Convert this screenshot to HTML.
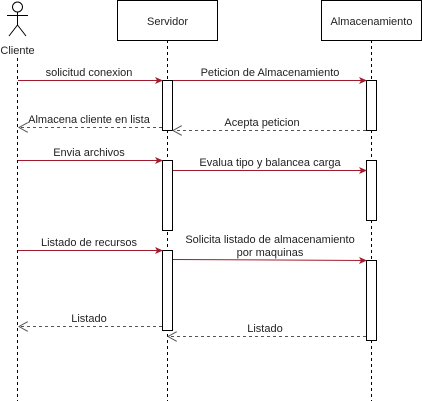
<!DOCTYPE html>
<html><head><meta charset="utf-8"><style>
html,body{margin:0;padding:0;background:#fff;width:422px;height:401px;overflow:hidden}
text{font-family:"Liberation Sans",sans-serif;font-size:11px;fill:#222}
</style></head><body>
<svg width="422" height="401" viewBox="0 0 422 401" xmlns="http://www.w3.org/2000/svg">
<defs>
<marker id="f" markerWidth="8" markerHeight="8" refX="7" refY="3.5" orient="auto" markerUnits="userSpaceOnUse"><path d="M0,0 L8,3.5 L0,7 L2,3.5z" fill="#a01c2c"/></marker>
<marker id="o" markerWidth="10" markerHeight="10" refX="9" refY="5" orient="auto" markerUnits="userSpaceOnUse"><path d="M0,0 L9,5 L0,10" fill="none" stroke="#555"/></marker>
</defs>
<g stroke="#000" stroke-dasharray="3,3" stroke-width="1">
<line x1="17.5" y1="58" x2="17.5" y2="401"/>
<line x1="167.5" y1="40" x2="167.5" y2="401"/>
<line x1="371.5" y1="40" x2="371.5" y2="401"/>
</g>
<!-- actor -->
<g stroke="#000" fill="none">
<circle cx="17.5" cy="7" r="5"/>
<line x1="17.5" y1="12" x2="17.5" y2="25"/>
<line x1="7" y1="15.5" x2="28" y2="15.5"/>
<line x1="17.5" y1="25" x2="9" y2="36"/>
<line x1="17.5" y1="25" x2="26" y2="36"/>
</g>
<text x="17.5" y="54" text-anchor="middle">Cliente</text>
<rect x="117.5" y="0.5" width="100" height="40" fill="#fff" stroke="#000"/>
<text x="167.5" y="25" text-anchor="middle">Servidor</text>
<rect x="321.5" y="0.5" width="100" height="40" fill="#fff" stroke="#000"/>
<text x="371.5" y="25" text-anchor="middle" font-size="10.5">Almacenamiento</text>
<g fill="#fff" stroke="#000">
<rect x="162.5" y="80.5" width="10" height="50"/>
<rect x="162.5" y="160.5" width="10" height="70"/>
<rect x="162.5" y="250.5" width="10" height="80"/>
<rect x="366.5" y="80.5" width="10" height="50"/>
<rect x="366.5" y="160.5" width="10" height="60"/>
<rect x="366.5" y="260.5" width="10" height="80"/>
</g>
<g stroke="#a01c2c" stroke-width="1">
<line x1="18" y1="80.5" x2="162" y2="80.5" marker-end="url(#f)"/>
<line x1="173" y1="80.5" x2="366" y2="80.5" marker-end="url(#f)"/>
<line x1="18" y1="160.5" x2="162" y2="160.5" marker-end="url(#f)"/>
<line x1="173" y1="170.5" x2="366" y2="170.5" marker-end="url(#f)"/>
<line x1="18" y1="250.5" x2="162" y2="250.5" marker-end="url(#f)"/>
<line x1="173" y1="259.5" x2="366" y2="260.5" marker-end="url(#f)"/>
</g>
<g stroke="#555" stroke-dasharray="3,3">
<line x1="162" y1="127.5" x2="19" y2="127.5" marker-end="url(#o)"/>
<line x1="366" y1="130.5" x2="173" y2="130.5" marker-end="url(#o)"/>
<line x1="162" y1="326.5" x2="19" y2="326.5" marker-end="url(#o)"/>
<line x1="366" y1="336.5" x2="168" y2="336.5" marker-end="url(#o)"/>
</g>
<text x="89" y="76" text-anchor="middle">solicitud conexion</text>
<text x="270" y="76" text-anchor="middle">Peticion de  Almacenamiento</text>
<text x="89" y="123" text-anchor="middle">Almacena cliente en lista</text>
<text x="262" y="126" text-anchor="middle">Acepta peticion</text>
<text x="89" y="156" text-anchor="middle">Envia archivos</text>
<text x="270" y="166" text-anchor="middle">Evalua tipo y balancea carga</text>
<text x="89" y="246" text-anchor="middle">Listado de recursos</text>
<text x="270" y="243" text-anchor="middle">Solicita listado de almacenamiento</text>
<text x="270" y="256" text-anchor="middle">por maquinas</text>
<text x="89" y="322" text-anchor="middle">Listado</text>
<text x="265" y="332" text-anchor="middle">Listado</text>
</svg>
</body></html>
